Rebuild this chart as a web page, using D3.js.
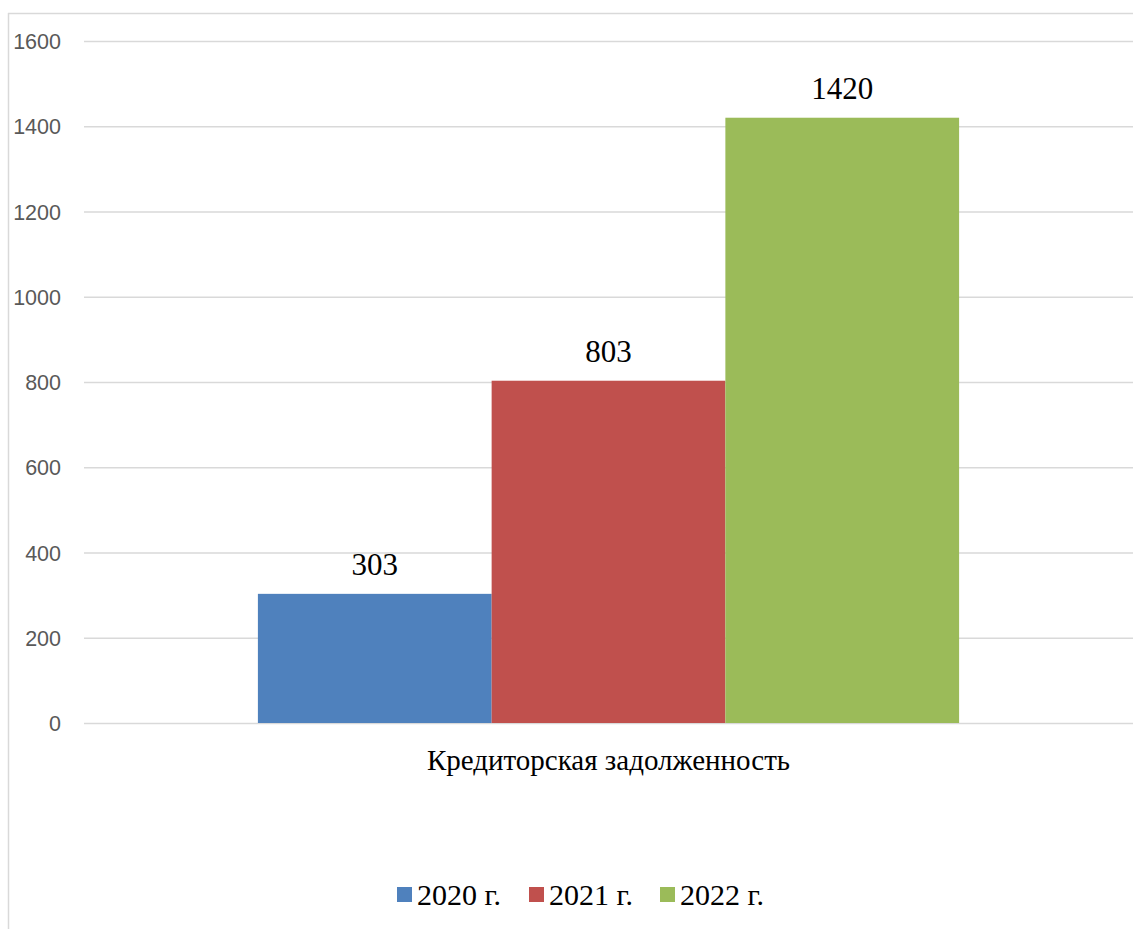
<!DOCTYPE html>
<html>
<head>
<meta charset="utf-8">
<script src="https://cdn.jsdelivr.net/npm/d3@7"></script>
<style>
  html, body { margin: 0; padding: 0; background: #fff; }
  svg { display: block; }
</style>
</head>
<body>
<svg id="chart" width="1133" height="929"></svg>
<script>
// Chart data
const categories = ["Кредиторская задолженность"];
const seriesNames = ["2020 г.", "2021 г.", "2022 г."];
const seriesValues = [303, 803, 1420];
const seriesColors = ["#4f81bd", "#c0504d", "#9bbb59"];
const yTicks = [0, 200, 400, 600, 800, 1000, 1200, 1400, 1600];

const svg = d3.select("#chart");
const W = 1133, H = 929;
const plot = { left: 84, right: 1133, top: 41, bottom: 723 };

// Chart frame (left and top edges visible)
svg.append("line").attr("x1", 8.5).attr("x2", 8.5).attr("y1", 13).attr("y2", H)
  .attr("stroke", "#d9d9d9").attr("stroke-width", 1.5);
svg.append("line").attr("x1", 8).attr("x2", W).attr("y1", 13.5).attr("y2", 13.5)
  .attr("stroke", "#d9d9d9").attr("stroke-width", 1.5);

const y = d3.scaleLinear().domain([0, 1600]).range([plot.bottom, plot.top]);
const x0 = d3.scaleBand().domain(categories).range([plot.left, plot.right])
  .paddingInner(0).paddingOuter(0.248);
const x1 = d3.scaleBand().domain(seriesNames).range([0, x0.bandwidth()]).padding(0);

// Gridlines and tick labels
const yAxis = d3.axisLeft(y).tickValues(yTicks).tickFormat(d3.format("d"))
  .tickSize(-(plot.right - plot.left)).tickPadding(23);
const gAxis = svg.append("g").attr("transform", `translate(${plot.left},0)`).call(yAxis);
gAxis.select(".domain").remove();
gAxis.selectAll(".tick line").attr("stroke", "#d9d9d9").attr("stroke-width", 1.5);
gAxis.selectAll(".tick text")
  .attr("fill", "#595959")
  .attr("font-family", "'Liberation Sans', Arial, sans-serif")
  .attr("font-size", 21.5)
  .attr("dy", "0.35em");

// Bars
const group = svg.append("g");
categories.forEach(cat => {
  const g = group.append("g").attr("transform", `translate(${x0(cat)},0)`);
  g.selectAll("rect").data(seriesNames).join("rect")
    .attr("x", d => x1(d))
    .attr("width", x1.bandwidth())
    .attr("y", (d, i) => y(seriesValues[i]))
    .attr("height", (d, i) => y(0) - y(seriesValues[i]))
    .attr("fill", (d, i) => seriesColors[i]);
  g.selectAll("text.val").data(seriesNames).join("text")
    .attr("class", "val")
    .attr("x", d => x1(d) + x1.bandwidth() / 2)
    .attr("y", (d, i) => y(seriesValues[i]) - 19)
    .attr("text-anchor", "middle")
    .attr("font-family", "'Liberation Serif', 'Times New Roman', serif")
    .attr("font-size", 31)
    .attr("fill", "#000")
    .text((d, i) => seriesValues[i]);
});

// Category label
svg.selectAll("text.cat").data(categories).join("text")
  .attr("class", "cat")
  .attr("x", d => x0(d) + x0.bandwidth() / 2)
  .attr("y", 770)
  .attr("text-anchor", "middle")
  .attr("font-family", "'Liberation Serif', 'Times New Roman', serif")
  .attr("font-size", 29)
  .attr("fill", "#000")
  .text(d => d);

// Legend
const legendX = [397, 529, 660];
const legend = svg.append("g");
seriesNames.forEach((name, i) => {
  legend.append("rect").attr("x", legendX[i]).attr("y", 887).attr("width", 15).attr("height", 15)
    .attr("fill", seriesColors[i]);
  legend.append("text").attr("x", legendX[i] + 20).attr("y", 905)
    .attr("font-family", "'Liberation Serif', 'Times New Roman', serif")
    .attr("font-size", 30).attr("fill", "#000")
    .text(name);
});
</script>
</body>
</html>
